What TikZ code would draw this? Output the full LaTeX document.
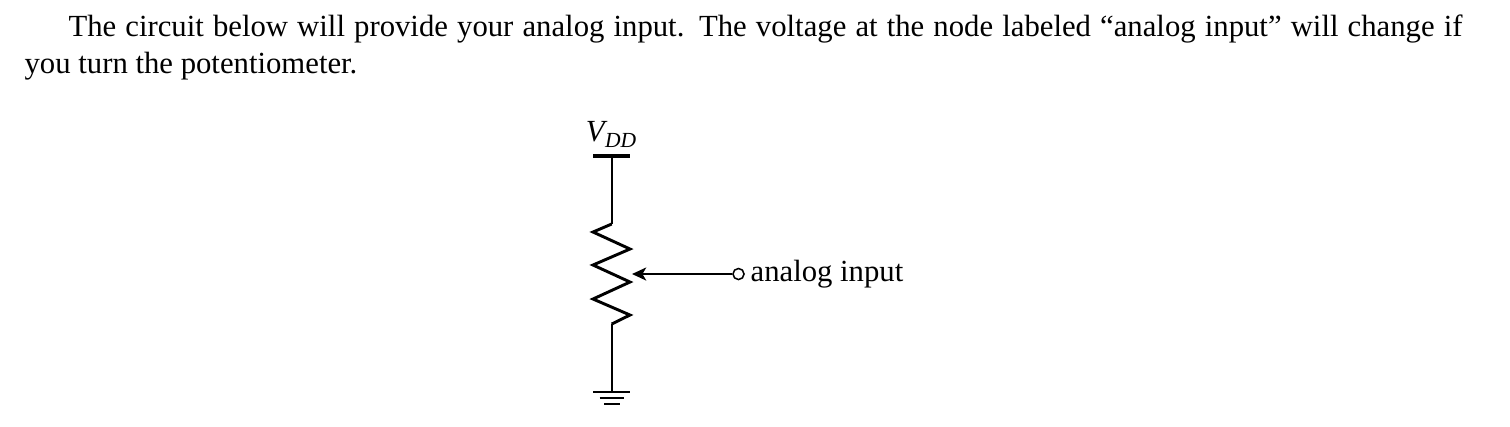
\documentclass[tikz,border=0pt]{standalone}
\usepackage{fontspec}
\setmainfont{Liberation Serif}
\usetikzlibrary{arrows.meta}
\tikzset{
    wire/.style={line width=0.6pt},
    res/.style={line width=0.95pt, line join=miter},
    rail/.style={line width=1.4pt},
    gndbar/.style={line width=0.9pt},
    tap/.style={circle, draw, line width=0.5pt, fill=white, inner sep=0pt, minimum size=3.6pt}
}
\begin{document}
\begin{tikzpicture}[x=0.3255pt, y=-0.3255pt]
    \useasboundingbox ( 0, 0 ) rectangle ( 1510, 426 );

    % текст
    \node [anchor=north west, inner sep=0pt, text width=468pt, align=justify] (intro) at ( 24, 14 )
        {\parindent=14.3pt\indent The circuit below will provide your analog input.  The voltage at the node labeled “analog input” will change if you turn the potentiometer.};

    % питание
    \coordinate (railL) at ( 593, 156 );
    \coordinate (railR) at ( 630, 156 );
    \coordinate (rail) at ( 611.7, 156 );
    \draw [rail] (railL) -- (railR);
    \node [anchor=base, inner sep=0pt] (vdd) at ( 611, 141 ) {\textit{V}\kern-0.8pt\raisebox{-2pt}{\scriptsize\textit{DD}}};

    % резистор
    \coordinate (resT) at ( 611.7, 224 );
    \coordinate (resB) at ( 611.7, 324 );
    \draw [wire] (rail) -- (resT);
    \draw [res] (resT) -- ( 593, 232 ) -- ( 630, 249 ) -- ( 593, 265 ) -- ( 630, 282 )
        -- ( 593, 299 ) -- ( 630, 315 ) -- (resB);

    % земля
    \coordinate (gnd) at ( 611.7, 392 );
    \draw [wire] (resB) -- (gnd);
    \draw [gndbar] ( 593, 392 ) -- ( 630, 392 );
    \draw [gndbar] ( 599.5, 398 ) -- ( 624, 398 );
    \draw [gndbar] ( 604, 404 ) -- ( 619.5, 404 );

    % вход
    \node [tap] (tapin) at ( 738.5, 274 ) {};
    \node [anchor=base west, inner sep=0pt] (inlabel) at ( 750, 281 ) {analog input};
    \coordinate (wiper) at ( 632, 274 );
    \coordinate (wiperT) at ( 660, 274 );
    \draw [wire] (tapin) -- (wiperT);
    \draw [res, -{Stealth[length=4.6pt, width=4.2pt, inset=1.2pt]}] (wiperT) -- (wiper);
\end{tikzpicture}
\end{document}
